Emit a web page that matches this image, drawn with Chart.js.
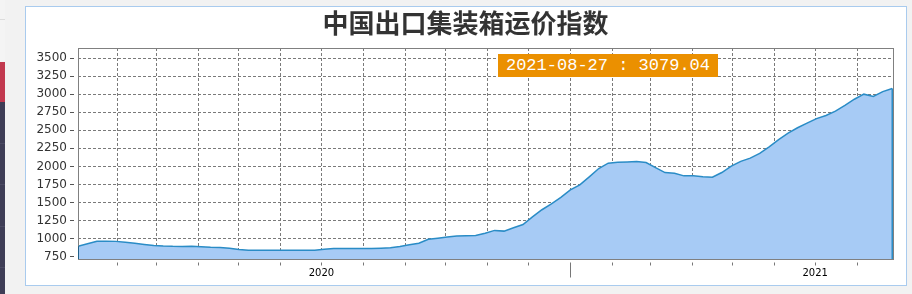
<!DOCTYPE html>
<html>
<head>
<meta charset="utf-8">
<script src="https://cdn.jsdelivr.net/npm/chart.js@4/dist/chart.umd.min.js"></script>
<style>
html,body{margin:0;padding:0;width:912px;height:294px;overflow:hidden;background:#f2f2f2;}
#strip{position:absolute;left:0;top:0;width:5px;height:294px;background:#f4f4f4;}
#stripLine{position:absolute;left:0;top:19px;width:5px;height:1px;background:#dcdcdc;}
#stripRed{position:absolute;left:0;top:62px;width:5px;height:40px;background:#c2394f;}
#stripDark{position:absolute;left:0;top:102px;width:5px;height:192px;background:#3e3d56;}
.sep{position:absolute;left:0;width:5px;height:1px;background:#4b4a63;}
#panel{position:absolute;left:25px;top:6px;width:880px;height:278px;background:#ffffff;border:1px solid #a9cbee;}
#wrap{position:absolute;left:0;top:0;width:912px;height:294px;}
#badge{position:absolute;left:498px;top:54px;width:220px;height:23px;background:#eb9000;color:#ffffff;
  font-family:"Liberation Mono","DejaVu Sans Mono",monospace;font-size:17px;line-height:23px;text-align:center;white-space:pre;}
</style>
</head>
<body>
<div id="strip"></div><div id="stripLine"></div><div id="stripRed"></div><div id="stripDark"></div>
<div class="sep" style="top:143px"></div><div class="sep" style="top:184px"></div>
<div class="sep" style="top:226px"></div><div class="sep" style="top:267px"></div>
<div id="panel"></div>
<div id="wrap"><canvas id="c" width="912" height="294"></canvas></div>
<div id="badge"></div>
<script>
// ---- data ----
const chartTitle = '中国出口集装箱运价指数';
const dates = [
 '2020-01-03','2020-01-10','2020-01-17','2020-01-24','2020-01-31',
 '2020-02-07','2020-02-14','2020-02-21','2020-02-28',
 '2020-03-06','2020-03-13','2020-03-20','2020-03-27',
 '2020-04-03','2020-04-10','2020-04-17','2020-04-24',
 '2020-05-01','2020-05-08','2020-05-15','2020-05-22','2020-05-29',
 '2020-06-05','2020-06-12','2020-06-19','2020-06-26',
 '2020-07-03','2020-07-10','2020-07-17','2020-07-24','2020-07-31',
 '2020-08-07','2020-08-14','2020-08-21','2020-08-28',
 '2020-09-04','2020-09-11','2020-09-18','2020-09-25',
 '2020-10-02','2020-10-09','2020-10-16','2020-10-23','2020-10-30',
 '2020-11-06','2020-11-13','2020-11-20','2020-11-27',
 '2020-12-04','2020-12-11','2020-12-18','2020-12-25',
 '2021-01-01','2021-01-08','2021-01-15','2021-01-22','2021-01-29',
 '2021-02-05','2021-02-12','2021-02-19','2021-02-26',
 '2021-03-05','2021-03-12','2021-03-19','2021-03-26',
 '2021-04-02','2021-04-09','2021-04-16','2021-04-23','2021-04-30',
 '2021-05-07','2021-05-14','2021-05-21','2021-05-28',
 '2021-06-04','2021-06-11','2021-06-18','2021-06-25',
 '2021-07-02','2021-07-09','2021-07-16','2021-07-23','2021-07-30',
 '2021-08-06','2021-08-13','2021-08-20','2021-08-27'
];
const indexValues = [
 895, 930, 964, 965, 962, 950, 935, 920, 905, 897,
 893, 892, 893, 888, 880, 877, 868, 850, 840, 838,
 838, 838, 838, 838, 838, 840, 852, 862, 863, 863,
 864, 863, 868, 873, 890, 914, 936, 990, 1005, 1022,
 1038, 1041, 1042, 1075, 1114, 1104, 1150, 1195, 1300, 1400,
 1480, 1570, 1675, 1745, 1855, 1970, 2044, 2056, 2062, 2067,
 2053, 1982, 1914, 1905, 1869, 1869, 1855, 1850, 1915, 2005,
 2070, 2115, 2180, 2270, 2370, 2460, 2535, 2600, 2662, 2705,
 2765, 2845, 2930, 3000, 2968, 3035, 3079.04
];
const yTickValues = [750, 1000, 1250, 1500, 1750, 2000, 2250, 2500, 2750, 3000, 3250, 3500];
const monthTicks = [
 '2020-02-01','2020-03-01','2020-04-01','2020-05-01','2020-06-01','2020-07-01',
 '2020-08-01','2020-09-01','2020-10-01','2020-11-01','2020-12-01','2021-01-01',
 '2021-02-01','2021-03-01','2021-04-01','2021-05-01','2021-06-01','2021-07-01','2021-08-01'
];

// ---- helpers ----
function dayNum(s){
  const p = s.split('-').map(Number);
  return (Date.UTC(p[0], p[1]-1, p[2]) - Date.UTC(2020,0,1)) / 86400000;
}
function dateOfDay(d){
  const t = new Date(Date.UTC(2020,0,1) + Math.round(d)*86400000);
  return {y:t.getUTCFullYear(), m:t.getUTCMonth()+1, d:t.getUTCDate()};
}
const LINE = '#2a8cc6';
const FILL = '#a7cbf5';

const points = dates.map((s,i)=>({x: dayNum(s), y: indexValues[i]}));
document.getElementById('badge').textContent =
  dates[dates.length-1] + ' : ' + indexValues[indexValues.length-1].toFixed(2);

const framePlugin = {
  id: 'frame',
  afterDatasetsDraw(chart){
    const {ctx, chartArea:a} = chart;
    const els = chart.getDatasetMeta(0).data;
    ctx.save();
    ctx.strokeStyle = '#808080';
    ctx.lineWidth = 1;
    ctx.strokeRect(Math.round(a.left)+0.5, Math.round(a.top)+0.5,
                   Math.round(a.right-a.left)-1, Math.round(a.bottom-a.top));
    ctx.strokeStyle = LINE;
    ctx.lineWidth = 1.5;
    const last = els[els.length-1], first = els[0];
    ctx.beginPath();
    ctx.moveTo(last.x, last.y); ctx.lineTo(last.x, a.bottom);
    ctx.stroke();
    ctx.strokeStyle = '#1f5f86';
    ctx.lineWidth = 1;
    ctx.beginPath();
    ctx.moveTo(Math.round(first.x)+0.5, first.y); ctx.lineTo(Math.round(first.x)+0.5, a.bottom);
    ctx.stroke();
    ctx.restore();
  }
};

Chart.defaults.font.family = '"DejaVu Sans", sans-serif';

new Chart(document.getElementById('c'), {
  type: 'line',
  data: {
    datasets: [{
      data: points,
      borderColor: LINE,
      backgroundColor: FILL,
      borderWidth: 1.5,
      fill: 'start',
      pointRadius: 0,
      tension: 0
    }]
  },
  options: {
    responsive: false,
    animation: false,
    devicePixelRatio: 1,
    layout: {padding: {left: 37, right: 18, top: 0, bottom: 0}},
    plugins: {
      legend: {display: false},
      tooltip: {enabled: false},
      title: {
        display: true,
        text: chartTitle,
        color: '#333333',
        font: {family: '"Noto Sans CJK SC", sans-serif', size: 26, weight: 'bold', lineHeight: 1.2},
        padding: {top: 7.7, bottom: 9.1}
      }
    },
    scales: {
      x: {
        type: 'linear',
        min: dayNum(dates[0]),
        max: dayNum(dates[dates.length-1]) + 1.3,
        afterBuildTicks(scale){ scale.ticks = monthTicks.map(s => ({value: dayNum(s)})); },
        afterFit(scale){ scale.height = 35; },
        border: {display: false, dash: [3, 2]},
        grid: {
          color: '#7a7a7a',
          lineWidth: 1,
          drawTicks: true,
          tickLength: 19,
          tickColor: '#777777',
          tickWidth: 1,
          tickBorderDash: (ctx) => {
            if (!ctx.tick) return [0, 3.5, 3, 60];
            const dt = dateOfDay(ctx.tick.value);
            return dt.m === 1 ? [0, 3.5, 15, 60] : [0, 3.5, 3, 60];
          }
        },
        ticks: {
          autoSkip: false,
          maxRotation: 0,
          color: '#000000',
          font: {size: 10},
          padding: -10.5,
          callback(value){
            const dt = dateOfDay(value);
            return dt.m === 7 ? String(dt.y) : '';
          }
        }
      },
      y: {
        min: 718,
        max: 3639,
        afterBuildTicks(scale){ scale.ticks = yTickValues.map(v => ({value: v})); },
        afterFit(scale){ scale.width = 41; },
        border: {display: false, dash: [3, 2]},
        grid: {
          color: '#7a7a7a',
          lineWidth: 1,
          drawTicks: true,
          tickLength: 8,
          tickColor: '#555555',
          tickBorderDash: [4, 4]
        },
        ticks: {
          color: '#333333',
          font: {size: 12},
          padding: 3,
          callback(value){ return String(value); }
        }
      }
    }
  },
  plugins: [framePlugin]
});
</script>
</body>
</html>
